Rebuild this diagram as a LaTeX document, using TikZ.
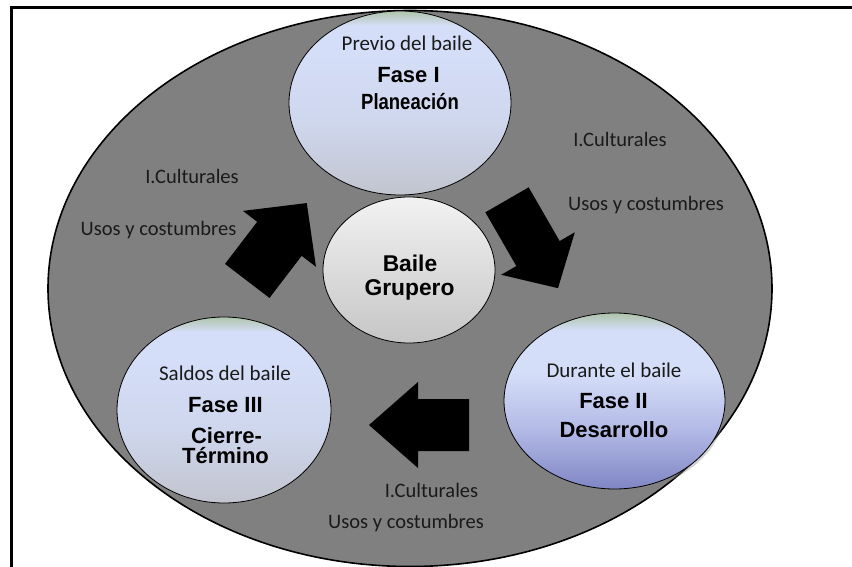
\documentclass[tikz,border=0pt]{standalone}
\usepackage{fontspec}
\setmainfont{Carlito}
\newfontfamily\arialfont{Liberation Sans}
\usetikzlibrary{shapes.geometric,shadows}

\definecolor{ellgray}{HTML}{808080}
\definecolor{txtc}{HTML}{1A1A1A}
\definecolor{fbot}{HTML}{C2C5CF}
\definecolor{fmid}{HTML}{CFD7EE}
\definecolor{flight}{HTML}{D5DEF8}
\definecolor{ftop}{HTML}{AEC4AA}
\definecolor{gbot}{HTML}{7F86C4}
\definecolor{gmid}{HTML}{B3BAE6}
\definecolor{cbot}{HTML}{C6C6C6}
\definecolor{ctop}{HTML}{F2F2F2}

\pgfdeclareverticalshading{faseshade}{100bp}{color(0bp)=(fbot); color(25bp)=(fbot); color(45bp)=(fmid); color(64bp)=(flight); color(71bp)=(flight); color(75bp)=(ftop); color(100bp)=(ftop)}
\pgfdeclareverticalshading{fasetwoshade}{100bp}{color(0bp)=(gbot); color(25bp)=(gbot); color(42bp)=(gmid); color(58bp)=(flight); color(70bp)=(flight); color(75bp)=(ftop); color(100bp)=(ftop)}
\pgfdeclareverticalshading{centershade}{100bp}{color(0bp)=(cbot); color(25bp)=(cbot); color(75bp)=(ctop); color(100bp)=(ctop)}

\newcommand\blockarrow[7]{% cx, cy, angle, length, head length, head width, shaft width
  \begin{scope}[shift={(#1,#2)}, rotate=#3]
    \pgfmathsetmacro\hL{#4/2}
    \pgfmathsetmacro\hB{#4/2-#5}
    \pgfmathsetmacro\hW{#6/2}
    \pgfmathsetmacro\sW{#7/2}
    \fill[black] (\hL,0) -- (\hB,\hW) -- (\hB,\sW) -- (-\hL,\sW) -- (-\hL,-\sW) -- (\hB,-\sW) -- (\hB,-\hW) -- cycle;
  \end{scope}}

\tikzset{
  phase/.style={ellipse, draw=black, line width=0.8pt, inner sep=0pt,
    drop shadow={shadow xshift=1pt, shadow yshift=-3pt, opacity=0.35}},
  lbl/.style={font=\fontsize{20.5}{24}\selectfont, text=txtc, inner sep=0pt, anchor=base},
  sml/.style={font=\fontsize{21}{25}\selectfont, text=txtc, inner sep=0pt, anchor=base},
  bld/.style={font=\arialfont\bfseries\fontsize{22}{26}\selectfont, text=black, inner sep=0pt, anchor=base},
  bldc/.style={font=\arialfont\bfseries\fontsize{22.8}{27}\selectfont, text=black, inner sep=0pt, anchor=base}
}

\begin{document}
\begin{tikzpicture}[x=1pt,y=-1pt]
\useasboundingbox (0,0) rectangle (852,567);
\fill[white] (0,0) rectangle (852,567);

% outer ellipse
\node[ellipse, draw=black, line width=1.6pt, fill=ellgray, minimum width=724pt, minimum height=556pt, inner sep=0pt] (outer) at (410,288.5) {};

% frame
\draw[line width=3pt] (11.5,568) -- (11.5,8) -- (853,8);

% phase circles
\node[phase, shading=faseshade, minimum width=222pt, minimum height=184pt] (f1) at (400,103) {};
\node[phase, shading=fasetwoshade, minimum width=221pt, minimum height=176pt] (f2) at (614.5,401) {};
\node[phase, shading=faseshade, minimum width=214pt, minimum height=186pt] (f3) at (224,410) {};
\node[phase, shading=centershade, minimum width=172pt, minimum height=146pt] (c) at (409,270) {};

% block arrows
\blockarrow{419}{425}{180}{100}{49}{86}{52}
\blockarrow{277}{242}{52.6}{98}{45}{92}{56}
\blockarrow{532.5}{244}{-60}{102}{40}{85}{50}

% texts in circles
\node[sml] (t1a) at (407,51) {Previo del baile};
\node[bld] (t1b) at (408.5,83) {Fase I};
\node[bld] (t1c) at (410,110) {\scalebox{0.84}[1]{Planeación}};

\node[sml] (t2a) at (614,377) {Durante el baile};
\node[bld] (t2b) at (613.5,408) {Fase II};
\node[bld] (t2c) at (614,437) {Desarrollo};

\node[sml] (t3a) at (225,380) {Saldos del baile};
\node[bld] (t3b) at (225.5,412) {Fase III};
\node[bld] (t3c) at (226.5,443) {Cierre-};
\node[bld] (t3d) at (225.5,463) {Término};

\node[bldc] (tca) at (410,271) {Baile};
\node[bldc] (tcb) at (409.5,295) {Grupero};

% outside labels
\node[lbl] (l1) at (192,183) {I.Culturales};
\node[lbl] (l2) at (158.5,235) {Usos y costumbres};
\node[lbl] (r1) at (620,147) {I.Culturales};
\node[lbl] (r2) at (646,211) {Usos y costumbres};
\node[lbl] (b1) at (431.5,497) {I.Culturales};
\node[lbl] (b2) at (406,528) {Usos y costumbres};
\end{tikzpicture}
\end{document}
